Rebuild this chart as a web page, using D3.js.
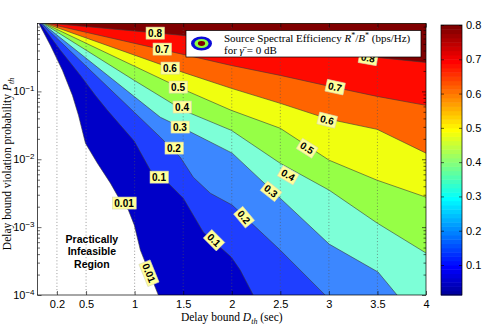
<!DOCTYPE html>
<html>
<head>
<meta charset="utf-8">
<script src="https://cdn.jsdelivr.net/npm/d3@7"></script>
<style>
  body { margin: 0; background: #fff; }
</style>
</head>
<body>
<svg></svg>
<script>
// contour levels of R*/B* and the lines (x = D_th in sec, P = P_th)
const levels = [0.01, 0.1, 0.2, 0.3, 0.4, 0.5, 0.6, 0.7, 0.8];
const contourX = [
  [0.015, 0.134, 0.257, 0.36, 0.422, 0.494, 0.617, 0.751, 0.833, 0.936, 0.997, 1.059, 1.244],
  [0.031, 0.237, 0.442, 0.596, 0.72, 0.997, 1.162, 1.337, 1.501, 1.707, 1.995, 2.087, 2.221],
  [0.041, 0.997, 1.265, 1.47, 1.604, 1.779, 2.005, 2.499, 2.961],
  [0.051, 1.265, 1.501, 2.005, 2.499, 3.003, 3.506, 3.702],
  [0.062, 0.997, 1.501, 1.995, 2.499, 3.003, 3.496, 4],
  [0.072, 1.501, 1.995, 2.499, 3.003, 3.496, 4],
  [0.082, 1.501, 1.995, 2.499, 3.003, 3.496, 4],
  [0.103, 1.501, 1.995, 2.499, 3.003, 3.496, 4],
  [0.154, 1.501, 1.995, 2.499, 3.003, 3.496, 4]
];
const contourP = [
  [1, 0.474, 0.204, 0.0873, 0.0444, 0.0172, 0.00873, 0.00444, 0.00276, 0.00178, 0.00107, 0.000459, 0.0001],
  [1, 0.401, 0.172, 0.0873, 0.0526, 0.0184, 0.00689, 0.00459, 0.00267, 0.000844, 0.000362, 0.000233, 0.0001],
  [1, 0.0491, 0.0211, 0.0107, 0.00543, 0.00316, 0.00211, 0.000459, 0.0001],
  [1, 0.0415, 0.0286, 0.0123, 0.00267, 0.000562, 0.000218, 0.0001],
  [1, 0.145, 0.0526, 0.0267, 0.00873, 0.0035, 0.00115, 0.000415],
  [1, 0.107, 0.0526, 0.0286, 0.00967, 0.00491, 0.00276],
  [1, 0.19, 0.111, 0.0667, 0.0388, 0.0276, 0.0123],
  [1, 0.35, 0.241, 0.172, 0.119, 0.0844, 0.0622],
  [1, 0.666, 0.562, 0.474, 0.388, 0.316, 0.267]
];

// inline contour labels
const labelText = ['0.8', '0.7', '0.6', '0.5', '0.4', '0.3', '0.2', '0.1', '0.01',
                   '0.01', '0.1', '0.2', '0.3', '0.4', '0.5', '0.6', '0.7', '0.8'];
const labelX = [1.21, 1.282, 1.364, 1.447, 1.488, 1.467, 1.405, 1.251, 0.891,
                1.148, 1.817, 2.126, 2.404, 2.579, 2.775, 2.981, 3.063, 3.403];
const labelP = [0.724, 0.421, 0.221, 0.116, 0.0589, 0.0299, 0.01465, 0.00547, 0.00227,
                0.000211, 0.000646, 0.00141, 0.0034, 0.00586, 0.01465, 0.0379, 0.116, 0.31];
const labelAngle = [0, 0, 0, 0, 0, 0, 0, 0, 0, 68, 45, 50, 38, 30, 32, 14, 12, 10];

const xTicks = [0.2, 0.5, 1, 1.5, 2, 2.5, 3, 3.5, 4];
const yTicks = [1e-4, 1e-3, 1e-2, 1e-1];
const cbTicks = [0.1, 0.2, 0.3, 0.4, 0.5, 0.6, 0.7, 0.8];

// fill colour for the band above each level
const fillColors = ['#0000c8', '#1f3fff', '#3c87ff', '#7dffd7', '#96ff46', '#f0ff0f', '#ff6400', '#ff0a00', '#800000'];

const sans = '"Liberation Sans", Arial, Helvetica, sans-serif';
const serif = '"Liberation Serif", "Times New Roman", serif';

const width = 502;
const height = 333;
const plot = {left: 37.5, right: 426, top: 23.5, bottom: 295};
const cb = {left: 441, right: 462, top: 25, bottom: 295};

const svg = d3.select('svg').attr('width', width).attr('height', height);

const x = d3.scaleLinear().domain([0, 4]).range([plot.left, plot.right]);
const y = d3.scaleLog().domain([1e-4, 1]).range([plot.bottom, plot.top]);

svg.append('defs').append('clipPath').attr('id', 'clip')
  .append('rect')
  .attr('x', plot.left).attr('y', plot.top)
  .attr('width', plot.right - plot.left).attr('height', plot.bottom - plot.top);

const line = d3.line().x(d => x(d[0])).y(d => y(d[1]));

const g = svg.append('g').attr('clip-path', 'url(#clip)');

const lines = levels.map((lev, i) => contourX[i].map((v, j) => [v, contourP[i][j]]));

// filled bands, lowest first
lines.forEach((pts, i) => {
  const poly = pts.slice();
  const last = pts[pts.length - 1];
  if (last[0] < 4) poly.push([4, 1e-4]);
  poly.push([4, 1]);
  g.append('path')
    .attr('d', line(poly) + 'Z')
    .attr('fill', fillColors[i]);
});

// contour lines
lines.forEach(pts => {
  g.append('path')
    .attr('d', line(pts))
    .attr('fill', 'none')
    .attr('stroke', '#3a3a3a')
    .attr('stroke-width', 0.6);
});

// dotted vertical grid
g.selectAll('.grid')
  .data(xTicks.filter(d => d < 4))
  .enter()
  .append('line')
  .attr('class', 'grid')
  .attr('x1', d => x(d)).attr('x2', d => x(d))
  .attr('y1', plot.top).attr('y2', plot.bottom)
  .attr('stroke', '#555')
  .attr('stroke-width', 0.6)
  .attr('stroke-dasharray', '1,2.2');

// axes
const styleAxis = sel => {
  sel.attr('font-family', sans).attr('font-size', 11);
  sel.select('.domain').remove();
  sel.selectAll('line').attr('stroke', '#000').attr('stroke-width', 0.6);
};

svg.append('g')
  .attr('transform', 'translate(0,' + plot.bottom + ')')
  .call(d3.axisBottom(x).tickValues(xTicks).tickSizeInner(-4).tickSizeOuter(0).tickPadding(5)
    .tickFormat(d3.format('')))
  .call(styleAxis);

svg.append('g')
  .attr('transform', 'translate(0,' + plot.top + ')')
  .call(d3.axisTop(x).tickValues(xTicks).tickSizeInner(-4).tickSizeOuter(0).tickFormat(''))
  .call(styleAxis);

const yMinor = [];
yTicks.forEach(t => { for (let k = 2; k <= 9; k++) yMinor.push(t * k); });

const yAxis = svg.append('g')
  .attr('transform', 'translate(' + plot.left + ',0)')
  .call(d3.axisLeft(y).tickValues(yTicks).tickSizeInner(-4).tickSizeOuter(0).tickPadding(3))
  .call(styleAxis);

yAxis.selectAll('.tick text').each(function(d) {
  const t = d3.select(this).text(null);
  t.append('tspan').text('10');
  t.append('tspan').attr('dy', '-0.55em').attr('font-size', 8).text('\u2212' + Math.round(-Math.log10(d)));
});

svg.append('g')
  .attr('transform', 'translate(' + plot.left + ',0)')
  .call(d3.axisLeft(y).tickValues(yMinor).tickSizeInner(-2.5).tickSizeOuter(0).tickFormat(''))
  .call(styleAxis);

svg.append('g')
  .attr('transform', 'translate(' + plot.right + ',0)')
  .call(d3.axisRight(y).tickValues(yTicks).tickSizeInner(-4).tickSizeOuter(0).tickFormat(''))
  .call(styleAxis);

svg.append('g')
  .attr('transform', 'translate(' + plot.right + ',0)')
  .call(d3.axisRight(y).tickValues(yMinor).tickSizeInner(-2.5).tickSizeOuter(0).tickFormat(''))
  .call(styleAxis);

// plot box
svg.append('rect')
  .attr('x', plot.left).attr('y', plot.top)
  .attr('width', plot.right - plot.left).attr('height', plot.bottom - plot.top)
  .attr('fill', 'none').attr('stroke', '#000').attr('stroke-width', 0.7);

// contour labels
labelText.forEach((txt, i) => {
  const lg = svg.append('g')
    .attr('transform', 'translate(' + x(labelX[i]) + ',' + y(labelP[i]) + ') rotate(' + labelAngle[i] + ')');
  const rect = lg.append('rect');
  const t = lg.append('text')
    .attr('text-anchor', 'middle')
    .attr('dy', '0.36em')
    .attr('font-family', sans)
    .attr('font-weight', 'bold')
    .attr('font-size', 10)
    .text(txt);
  const bb = t.node().getBBox();
  rect.attr('x', bb.x - 2).attr('y', bb.y - 0.5)
    .attr('width', bb.width + 4).attr('height', bb.height + 1)
    .attr('fill', '#ffff99').attr('stroke', '#d8d8b8').attr('stroke-width', 0.6);
});

// infeasible region text
const inf = svg.append('text')
  .attr('x', x(0.56)).attr('y', y(4.3e-4))
  .attr('text-anchor', 'middle')
  .attr('font-family', sans)
  .attr('font-weight', 'bold')
  .attr('font-size', 10.5);
['Practically', 'Infeasible', 'Region'].forEach((s, i) => {
  inf.append('tspan').attr('x', x(0.56)).attr('dy', i === 0 ? '-0.9em' : '1.2em').text(s);
});

// legend
const leg = svg.append('g');
leg.append('rect')
  .attr('x', 186).attr('y', 30.5).attr('width', 235).attr('height', 26.5)
  .attr('fill', '#fff').attr('stroke', '#000').attr('stroke-width', 0.7);
[[10.5, 7, '#0a0ad8'], [7, 4.5, '#8cff40'], [3.6, 2.4, '#800000']].forEach(e => {
  leg.append('ellipse').attr('cx', 201.5).attr('cy', 43.5).attr('rx', e[0]).attr('ry', e[1]).attr('fill', e[2]);
});
const l1 = leg.append('text').attr('x', 224).attr('y', 41.5).attr('font-family', serif).attr('font-size', 11);
l1.append('tspan').text('Source Spectral Efficiency ');
l1.append('tspan').attr('font-style', 'italic').text('R');
l1.append('tspan').attr('dy', -4).attr('font-size', 8).text('*');
l1.append('tspan').attr('dy', 4).text('/');
l1.append('tspan').attr('font-style', 'italic').text('B');
l1.append('tspan').attr('dy', -4).attr('font-size', 8).text('*');
l1.append('tspan').attr('dy', 4).text(' (bps/Hz)');
const l2 = leg.append('text').attr('x', 224).attr('y', 53.5).attr('font-family', serif).attr('font-size', 11);
l2.append('tspan').text('for ');
l2.append('tspan').attr('font-style', 'italic').text('\u03b3\u0304');
l2.append('tspan').text(' = 0 dB');

// axis titles
const xl = svg.append('text')
  .attr('x', (plot.left + plot.right) / 2).attr('y', 321)
  .attr('text-anchor', 'middle').attr('font-family', serif).attr('font-size', 11.5);
xl.append('tspan').text('Delay bound ');
xl.append('tspan').attr('font-style', 'italic').text('D');
xl.append('tspan').attr('font-style', 'italic').attr('font-size', 8).attr('dy', 2.5).text('th');
xl.append('tspan').attr('dy', -2.5).text(' (sec)');

const yl = svg.append('text')
  .attr('transform', 'translate(11,164) rotate(-90)')
  .attr('text-anchor', 'middle').attr('font-family', serif).attr('font-size', 11.5);
yl.append('tspan').text('Delay bound violation probability ');
yl.append('tspan').attr('font-style', 'italic').text('P');
yl.append('tspan').attr('font-style', 'italic').attr('font-size', 8).attr('dy', 2.5).text('th');

// colorbar (jet, 64 colours over 0..0.8)
const jet = (n) => {
  const m = Math.ceil(n / 4);
  const u = [];
  for (let i = 1; i <= m; i++) u.push(i / m);
  for (let i = 1; i < m; i++) u.push(1);
  for (let i = m; i >= 1; i--) u.push(i / m);
  const gOff = Math.ceil(m / 2) - (n % 4 === 1 ? 1 : 0);
  const cols = d3.range(n).map(() => [0, 0, 0]);
  u.forEach((v, k) => {
    const gi = gOff + k + 1;
    const ri = gi + m;
    const bi = gi - m;
    if (ri <= n) cols[ri - 1][0] = v;
    if (gi <= n) cols[gi - 1][1] = v;
    if (bi >= 1) cols[bi - 1][2] = v;
  });
  return cols.map(c => d3.rgb(c[0] * 255, c[1] * 255, c[2] * 255).toString());
};
const jetColors = jet(64);
const cMax = 0.8;
const step = cMax / 64;
const cbScale = d3.scaleLinear().domain([step, cMax]).range([cb.bottom, cb.top]);

svg.append('g')
  .selectAll('rect')
  .data(d3.range(1, 64))
  .enter()
  .append('rect')
  .attr('x', cb.left)
  .attr('width', cb.right - cb.left)
  .attr('y', k => cbScale((k + 1) * step))
  .attr('height', k => cbScale(k * step) - cbScale((k + 1) * step) + 0.5)
  .attr('fill', k => jetColors[k]);

svg.append('g')
  .attr('transform', 'translate(' + cb.right + ',0)')
  .call(d3.axisRight(cbScale).tickValues(cbTicks).tickSizeInner(-3).tickSizeOuter(0).tickPadding(4)
    .tickFormat(d3.format('.1f')))
  .call(styleAxis);

svg.append('g')
  .attr('transform', 'translate(' + cb.left + ',0)')
  .call(d3.axisLeft(cbScale).tickValues(cbTicks).tickSizeInner(-3).tickSizeOuter(0).tickFormat(''))
  .call(styleAxis);

svg.append('rect')
  .attr('x', cb.left).attr('y', cb.top)
  .attr('width', cb.right - cb.left).attr('height', cb.bottom - cb.top)
  .attr('fill', 'none').attr('stroke', '#000').attr('stroke-width', 0.7);
</script>
</body>
</html>
